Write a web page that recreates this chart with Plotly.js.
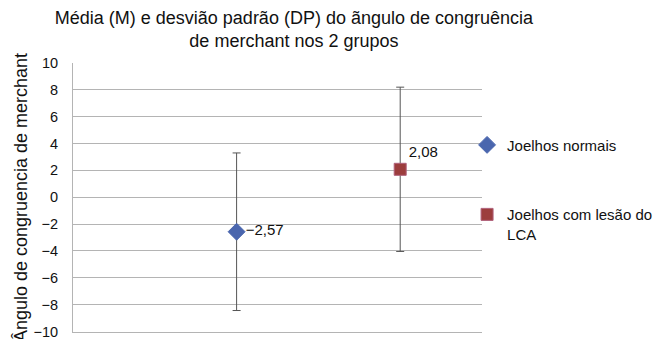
<!DOCTYPE html>
<html>
<head>
<meta charset="utf-8">
<script src="https://cdn.plot.ly/plotly-3.0.1.min.js"></script>
<style>html,body{margin:0;padding:0;background:#fff}#chart{width:665px;height:339px}</style>
</head>
<body>
<div id="chart"></div>
<script>
var groups = ["Joelhos normais", "Joelhos com lesão do<br>LCA"];
var xPos = [1, 2];
var means = [-2.57, 2.08];
var sds = [5.87, 6.12];
var yTicks = [-10, -8, -6, -4, -2, 0, 2, 4, 6, 8, 10];
var titleText = "Média (M) e desvião padrão (DP) do ãngulo de congruência<br>de merchant nos 2 grupos";
var yTitle = "Ângulo de congruencia de merchant";

function fmt(v) {
  return v.toFixed(2).replace('.', ',').replace('-', '\u2212');
}

var styles = [
  {symbol: 'diamond', color: '#4A66AE', line: '#4A66AE', size: 13, pos: 'middle right'},
  {symbol: 'square', color: '#9C3D3D', line: '#B0607A', size: 12, pos: 'top right'}
];

var traces = groups.map(function (g, i) {
  return {
    type: 'scatter',
    mode: 'markers+text',
    name: g,
    legendgroup: 'g' + i,
    x: [xPos[i]],
    y: [means[i]],
    text: [fmt(means[i])],
    textposition: styles[i].pos,
    textfont: {family: 'Liberation Sans, Arial, sans-serif', size: 15, color: '#111'},
    marker: {symbol: styles[i].symbol, size: styles[i].size, color: styles[i].color,
             line: {color: styles[i].line, width: 1}},
    error_y: {type: 'data', array: [sds[i]], visible: true, color: '#555', thickness: 1, width: 4},
    cliponaxis: false
  };
});

var layout = {
  width: 665, height: 339,
  margin: {l: 73, r: 181, t: 63, b: 7},
  paper_bgcolor: '#fff', plot_bgcolor: '#fff',
  font: {family: 'Liberation Sans, Arial, sans-serif', color: '#111', size: 14},
  separators: ',.',
  title: {text: titleText, xref: 'container', x: 0.442, xanchor: 'center',
          yref: 'container', y: 0.929, yanchor: 'top',
          font: {size: 18, color: '#111'}},
  xaxis: {range: [0, 2.5], showgrid: false, zeroline: false, showticklabels: false,
          showline: true, linecolor: '#B4B4B4', linewidth: 1, mirror: false,
          ticks: '', fixedrange: true},
  yaxis: {range: [-10.04, 10], tickvals: yTicks, ticks: '', ticklabelstandoff: 11,
          ticklabeloverflow: 'allow',
          showgrid: true, gridcolor: '#B4B4B4', gridwidth: 1, zeroline: false,
          showline: true, linecolor: '#B4B4B4', linewidth: 1,
          tickfont: {size: 14.5},
          title: {text: yTitle, font: {size: 18}, standoff: 1}},
  showlegend: true,
  legend: {x: 0.9635, xanchor: 'left', y: 0.756, yanchor: 'top', itemwidth: 30,
           valign: 'top',
           traceorder: 'grouped', tracegroupgap: 47, bgcolor: 'rgba(0,0,0,0)',
           font: {size: 15}, itemclick: false}
};

Plotly.newPlot('chart', traces, layout, {displayModeBar: false, staticPlot: true});
</script>
</body>
</html>
